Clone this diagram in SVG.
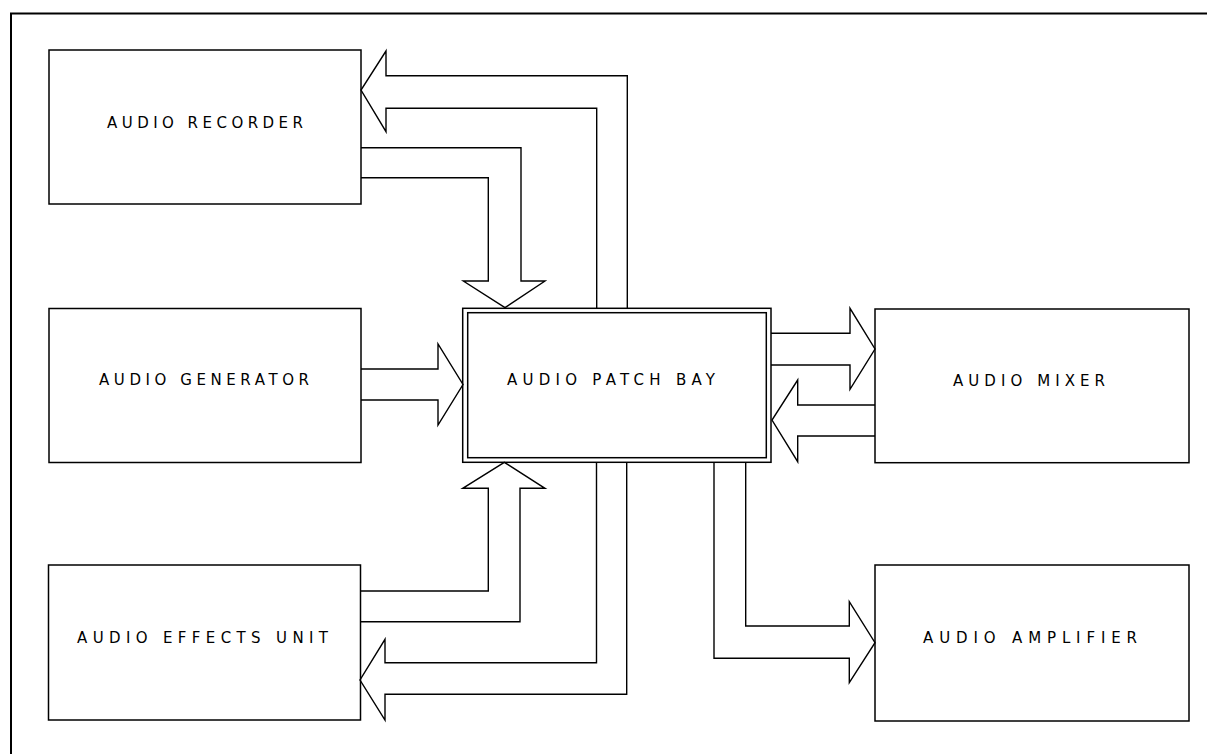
<svg xmlns="http://www.w3.org/2000/svg" width="1207" height="754" viewBox="0 0 1207 754">
<style>
  .box{fill:none;stroke:#000;stroke-width:1.5}
  .conn{fill:none;stroke:#000;stroke-width:1.4;stroke-linejoin:miter}
  .lbl{font-family:"DejaVu Sans","Liberation Sans",Arial,sans-serif;font-size:15px;fill:#000}
</style>
<rect width="1207" height="754" fill="#fff"/>
<rect id="frame" x="11" y="13.5" width="1220" height="760" fill="none" stroke="#000" stroke-width="2"/>
<g id="connectors">
  <path class="conn" d="M627.3,308 V75.7 H386 V51 L361,90 L386,131.7 V108.3 H596.7 V308"/>
  <path class="conn" d="M361,147.7 H521 V281 H545 L505,307.7 L463.3,281 H488.3 V177.7 H361"/>
  <path class="conn" d="M361,369 H438 V344 L463,384.5 L438,425 V400 H361"/>
  <path class="conn" d="M771,333.3 H850 V308.3 L875,349 L850,389.3 V365 H771"/>
  <path class="conn" d="M875,405 H797.7 V380 L772,420 L797.7,461.7 V436 H875"/>
  <path class="conn" d="M360,591 H488.3 V488.3 H462.7 L504.3,462.3 L545,488.3 H520 V621.7 H360"/>
  <path class="conn" d="M596.5,462.3 V662.7 H385 V639.3 L360,680 L385,720 V694.3 H626.7 V462.3"/>
  <path class="conn" d="M745.7,462.3 V626 H849.3 V601.7 L875,642.7 L849.3,682.7 V658.3 H714 V462.3"/>
</g>
<g id="recorder">
  <rect class="box" x="49" y="50" width="312" height="154"/>
  <text class="lbl" x="107" y="128" textLength="196" lengthAdjust="spacing">AUDIO RECORDER</text>
</g>
<g id="generator">
  <rect class="box" x="49" y="308.5" width="312" height="154"/>
  <text class="lbl" x="99" y="385" textLength="210" lengthAdjust="spacing">AUDIO GENERATOR</text>
</g>
<g id="effects">
  <rect class="box" x="48.5" y="565" width="312" height="155"/>
  <text class="lbl" x="77" y="643" textLength="251" lengthAdjust="spacing">AUDIO EFFECTS UNIT</text>
</g>
<g id="patchbay">
  <rect class="box" x="462.7" y="308.3" width="308.3" height="154"/>
  <rect class="box" x="467.7" y="312.7" width="298.6" height="145"/>
  <text class="lbl" x="507" y="385" textLength="208" lengthAdjust="spacing">AUDIO PATCH BAY</text>
</g>
<g id="mixer">
  <rect class="box" x="875" y="309" width="314" height="153.7"/>
  <text class="lbl" x="953" y="386" textLength="152" lengthAdjust="spacing">AUDIO MIXER</text>
</g>
<g id="amplifier">
  <rect class="box" x="875" y="565" width="314" height="156"/>
  <text class="lbl" x="923" y="643" textLength="214" lengthAdjust="spacing">AUDIO AMPLIFIER</text>
</g>
</svg>
